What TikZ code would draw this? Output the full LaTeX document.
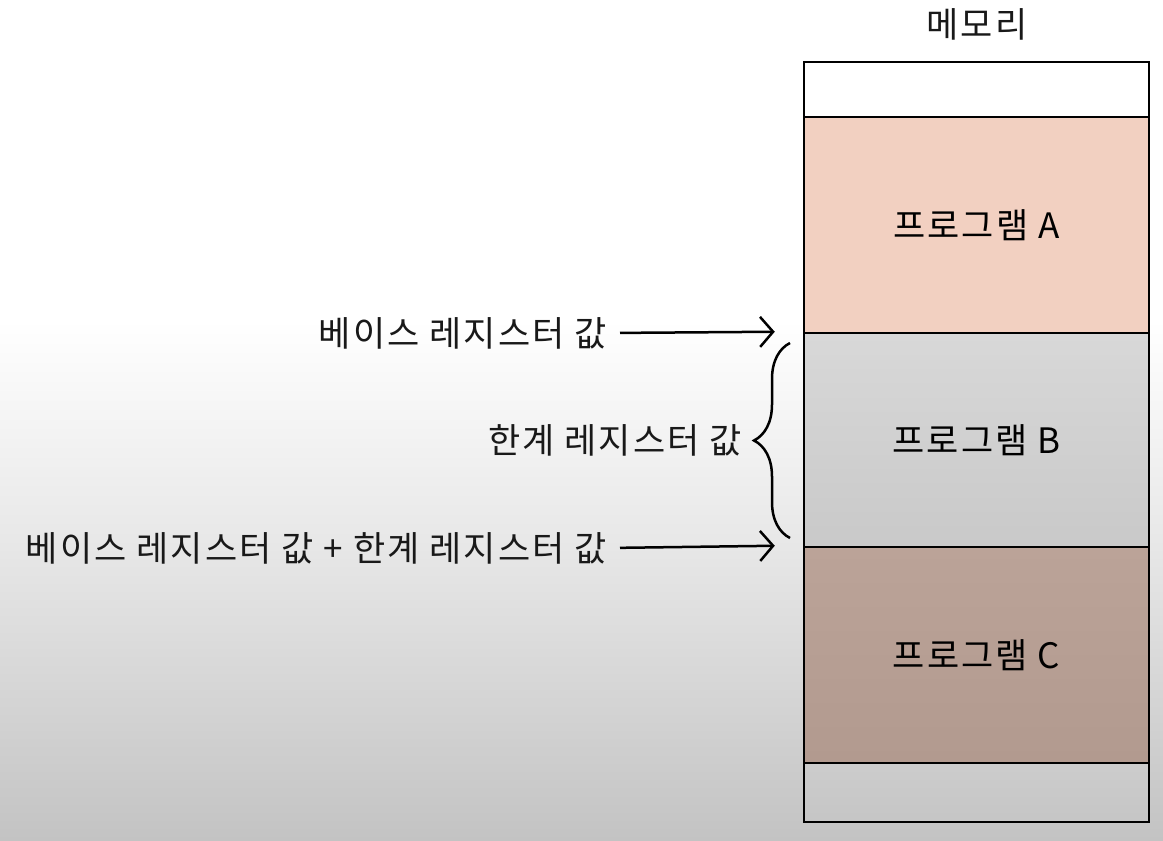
\documentclass[tikz,border=0pt]{standalone}
\usepackage{fontspec}
\setmainfont[LetterSpace=6]{Noto Sans CJK KR}
\usetikzlibrary{arrows.meta,decorations.pathreplacing}
\definecolor{bgdark}{HTML}{C3C3C3}
\definecolor{bgmid}{HTML}{E8E8E8}
\definecolor{progAfill}{HTML}{F2D0C1}
\definecolor{progBtop}{HTML}{D8D8D8}
\definecolor{progBbot}{HTML}{C9C9C9}
\definecolor{progCtop}{HTML}{BBA398}
\definecolor{progCbot}{HTML}{B29A8F}
\pgfdeclareverticalshading{backdrop}{100bp}{color(0bp)=(bgdark); color(25bp)=(bgdark); color(43bp)=(bgmid); color(56bp)=(white); color(100bp)=(white)}

\begin{document}
\begin{tikzpicture}[x=1pt,y=-1pt]
            \tikzset{slot/.style = {shape=rectangle, draw=black, line width=2.5pt, minimum width=345pt, inner sep=0pt, font=\fontsize{35}{42}\selectfont}}
            \tikzset{regtext/.style = {inner sep=0pt, text=black!90, font=\fontsize{35}{42}\selectfont}}
            \tikzset{pointer/.style = {draw=black, line width=2.5pt, -{Straight Barb[length=13pt,width=30pt]}}}
            \useasboundingbox (0,0) rectangle (1163,841);
            \shade[shading=backdrop] (0,0) rectangle (1163,841);
            % memory
            \node[regtext] (title) at (977,24) {메모리};
            \node[slot, minimum height=55pt] (top) at (976.5,89.5) {};
            \node[slot, minimum height=216pt, fill=progAfill] (progA) at (976.5,225) {프로그램 A};
            \node[slot, minimum height=214pt, top color=progBtop, bottom color=progBbot] (progB) at (976.5,440) {프로그램 B};
            \node[slot, minimum height=216pt, top color=progCtop, bottom color=progCbot] (progC) at (976.5,655) {프로그램 C};
            \node[slot, minimum height=59pt] (bottom) at (976.5,792.5) {};
            % registers
            \node[regtext, anchor=east] (base) at (607,333) {베이스 레지스터 값};
            \node[regtext, anchor=east] (limit) at (742,440) {한계 레지스터 값};
            \node[regtext, anchor=east] (sum) at (607,548) {베이스 레지스터 값 + 한계 레지스터 값};
            \coordinate (braceTop) at (790,343);
            \coordinate (braceBot) at (790,538);
            % arrows
            \draw[pointer, shorten <=13pt] (base.east) -- ([xshift=-28pt]progB.north west);
            \draw[pointer, shorten <=13pt] (sum.east) -- ([xshift=-28pt]progC.north west);
            \draw[decorate, decoration={brace, amplitude=36pt}, line width=2.5pt] (braceBot) -- (braceTop);
        \end{tikzpicture}
\end{document}
